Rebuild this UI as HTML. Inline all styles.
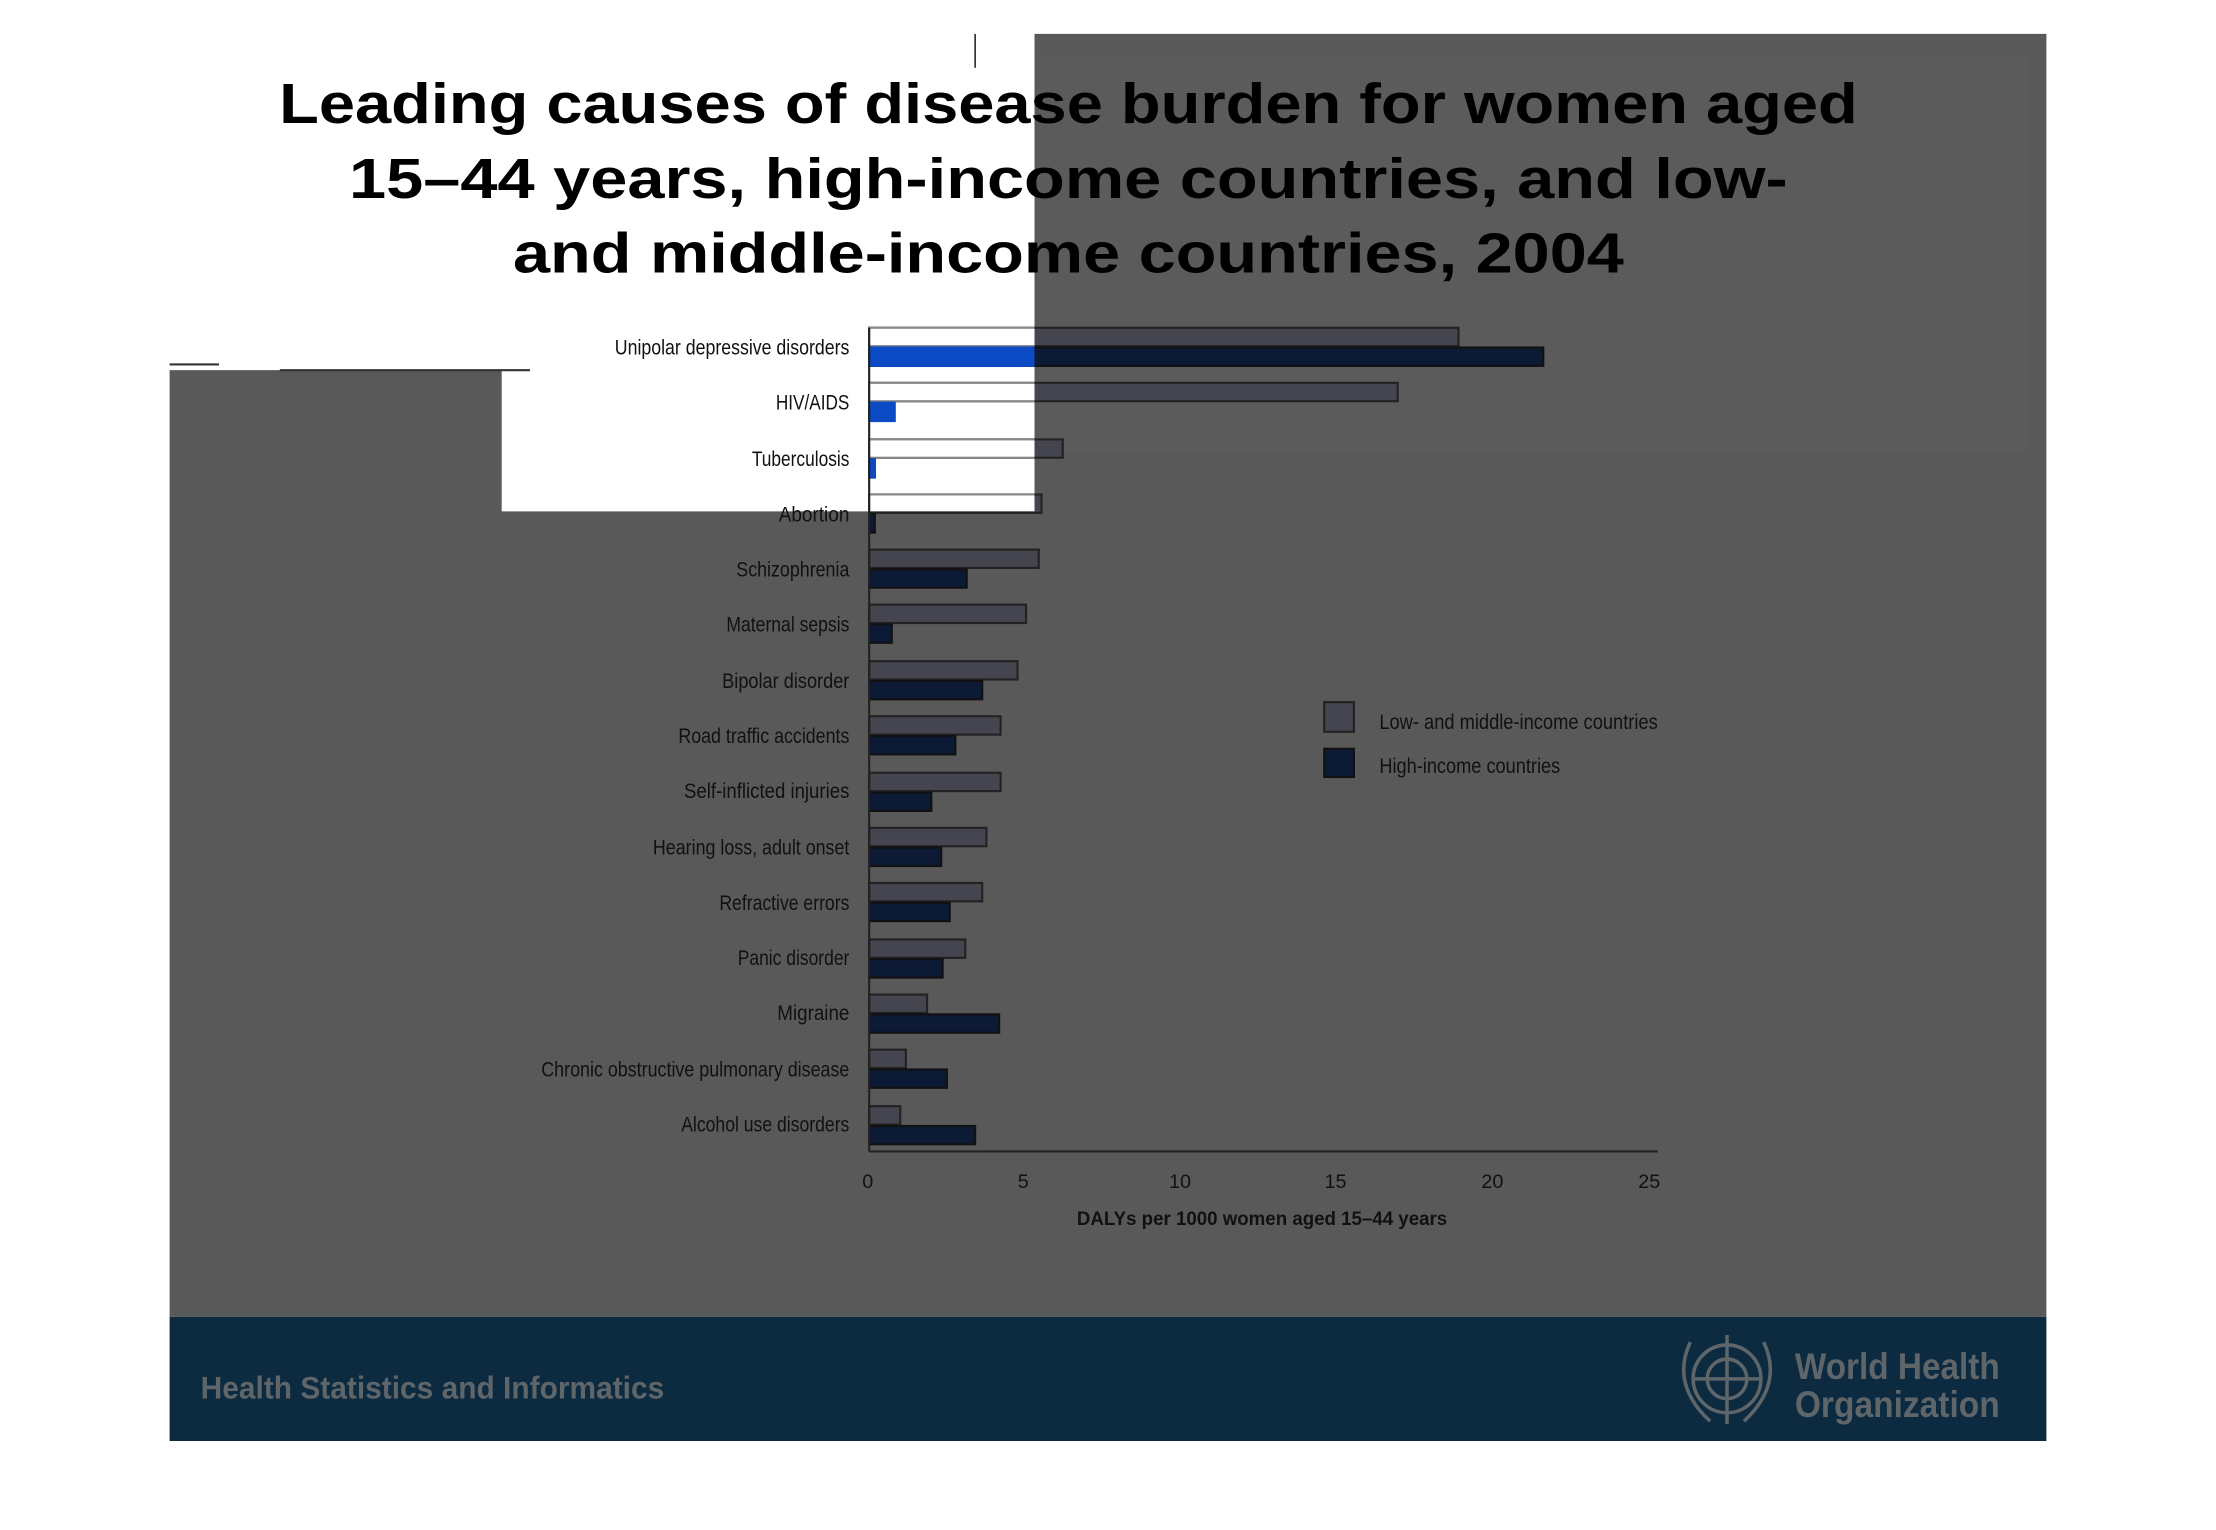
<!DOCTYPE html>
<html><head><meta charset="utf-8"><style>html,body{margin:0;padding:0;background:#fff}svg{display:block}</style></head>
<body>
<svg width="2216" height="1530" viewBox="0 0 1568 1083" preserveAspectRatio="none" xmlns="http://www.w3.org/2000/svg">
<defs>
<clipPath id="wc"><rect x="0" y="0" width="732" height="262"/><rect x="355" y="261" width="377" height="101"/></clipPath>
</defs>
<rect width="1568" height="1083" fill="#fff"/>
<path d="M732 24H1448V932H120V262H355V362H732Z" fill="#595959"/>
<rect x="735" y="40" width="700" height="280" fill="#5b5b5b"/>
<line x1="120" y1="258" x2="155" y2="258" stroke="#333" stroke-width="1.5"/>
<line x1="198" y1="262" x2="375" y2="262" stroke="#333" stroke-width="1.5"/>
<line x1="690" y1="24" x2="690" y2="48" stroke="#333" stroke-width="1.2"/>
<rect x="120" y="932" width="1328" height="88" fill="#0c2a40"/>
<text x="142" y="990" font-family="Liberation Sans, sans-serif" font-weight="bold" font-size="22" fill="#5f666a" textLength="328" lengthAdjust="spacingAndGlyphs">Health Statistics and Informatics</text>
<text x="1270" y="976" font-family="Liberation Sans, sans-serif" font-weight="bold" font-size="26" fill="#5f666a" textLength="145" lengthAdjust="spacingAndGlyphs">World Health</text>
<text x="1270" y="1003" font-family="Liberation Sans, sans-serif" font-weight="bold" font-size="26" fill="#5f666a" textLength="145" lengthAdjust="spacingAndGlyphs">Organization</text>
<g fill="none" stroke="#5f666a" stroke-width="2.5">
<circle cx="1222" cy="976" r="24"/><circle cx="1222" cy="976" r="14"/>
<line x1="1198" y1="976" x2="1246" y2="976"/><line x1="1222" y1="945" x2="1222" y2="1008"/>
<path d="M1196 950 Q1182 980 1210 1006"/><path d="M1248 950 Q1262 980 1234 1006"/>
</g>
<g font-family="Liberation Sans, DejaVu Sans, sans-serif" font-weight="bold" font-size="40" fill="#000" text-anchor="middle">
<text x="756" y="87" textLength="1117" lengthAdjust="spacingAndGlyphs">Leading causes of disease burden for women aged</text>
<text x="756" y="140" textLength="1018" lengthAdjust="spacingAndGlyphs">15–44 years, high-income countries, and low-</text>
<text x="756" y="193" textLength="786" lengthAdjust="spacingAndGlyphs">and middle-income countries, 2004</text>
</g>
<g stroke-width="1.5">
<rect x="615" y="232" width="417" height="13" fill="#45454f" stroke="#222"/><rect x="615" y="246" width="477" height="13" fill="#0c1a35" stroke="#111"/>
<rect x="615" y="271" width="374" height="13" fill="#45454f" stroke="#222"/><rect x="615" y="285" width="18" height="13" fill="#0c1a35" stroke="#111"/>
<rect x="615" y="311" width="137" height="13" fill="#45454f" stroke="#222"/><rect x="615" y="325" width="4" height="13" fill="#0c1a35" stroke="#111"/>
<rect x="615" y="350" width="122" height="13" fill="#45454f" stroke="#222"/><rect x="615" y="364" width="4" height="13" fill="#0c1a35" stroke="#111"/>
<rect x="615" y="389" width="120" height="13" fill="#45454f" stroke="#222"/><rect x="615" y="403" width="69" height="13" fill="#0c1a35" stroke="#111"/>
<rect x="615" y="428" width="111" height="13" fill="#45454f" stroke="#222"/><rect x="615" y="442" width="16" height="13" fill="#0c1a35" stroke="#111"/>
<rect x="615" y="468" width="105" height="13" fill="#45454f" stroke="#222"/><rect x="615" y="482" width="80" height="13" fill="#0c1a35" stroke="#111"/>
<rect x="615" y="507" width="93" height="13" fill="#45454f" stroke="#222"/><rect x="615" y="521" width="61" height="13" fill="#0c1a35" stroke="#111"/>
<rect x="615" y="547" width="93" height="13" fill="#45454f" stroke="#222"/><rect x="615" y="561" width="44" height="13" fill="#0c1a35" stroke="#111"/>
<rect x="615" y="586" width="83" height="13" fill="#45454f" stroke="#222"/><rect x="615" y="600" width="51" height="13" fill="#0c1a35" stroke="#111"/>
<rect x="615" y="625" width="80" height="13" fill="#45454f" stroke="#222"/><rect x="615" y="639" width="57" height="13" fill="#0c1a35" stroke="#111"/>
<rect x="615" y="665" width="68" height="13" fill="#45454f" stroke="#222"/><rect x="615" y="679" width="52" height="13" fill="#0c1a35" stroke="#111"/>
<rect x="615" y="704" width="41" height="13" fill="#45454f" stroke="#222"/><rect x="615" y="718" width="92" height="13" fill="#0c1a35" stroke="#111"/>
<rect x="615" y="743" width="26" height="13" fill="#45454f" stroke="#222"/><rect x="615" y="757" width="55" height="13" fill="#0c1a35" stroke="#111"/>
<rect x="615" y="783" width="22" height="13" fill="#45454f" stroke="#222"/><rect x="615" y="797" width="75" height="13" fill="#0c1a35" stroke="#111"/>
</g>
<g clip-path="url(#wc)" stroke-width="1.5">
<rect x="615" y="232" width="417" height="13" fill="#fff" stroke="#888"/><rect x="615" y="246" width="477" height="13" fill="#0d4bc4" stroke="#0d4bc4"/>
<rect x="615" y="271" width="374" height="13" fill="#fff" stroke="#888"/><rect x="615" y="285" width="18" height="13" fill="#0d4bc4" stroke="#0d4bc4"/>
<rect x="615" y="311" width="137" height="13" fill="#fff" stroke="#888"/><rect x="615" y="325" width="4" height="13" fill="#0d4bc4" stroke="#0d4bc4"/>
<rect x="615" y="350" width="122" height="13" fill="#fff" stroke="#888"/>
</g>
<line x1="615" y1="232" x2="615" y2="815" stroke="#222" stroke-width="1.5"/>
<line x1="615" y1="815" x2="1173" y2="815" stroke="#222" stroke-width="1.5"/>
<g font-family="Liberation Sans, sans-serif" font-size="14" fill="#111" text-anchor="middle">
<text x="614" y="841">0</text><text x="724" y="841">5</text><text x="835" y="841">10</text><text x="945" y="841">15</text><text x="1056" y="841">20</text><text x="1167" y="841">25</text>
<text x="893" y="867" font-weight="bold" textLength="262" lengthAdjust="spacingAndGlyphs">DALYs per 1000 women aged 15–44 years</text>
</g>
<g font-family="Liberation Sans, sans-serif" font-size="15" fill="#111" text-anchor="end" lengthAdjust="spacingAndGlyphs">
<text x="601" y="251" textLength="166" lengthAdjust="spacingAndGlyphs">Unipolar depressive disorders</text>
<text x="601" y="290" textLength="52" lengthAdjust="spacingAndGlyphs">HIV/AIDS</text>
<text x="601" y="330" textLength="69" lengthAdjust="spacingAndGlyphs">Tuberculosis</text>
<text x="601" y="369" textLength="50" lengthAdjust="spacingAndGlyphs">Abortion</text>
<text x="601" y="408" textLength="80" lengthAdjust="spacingAndGlyphs">Schizophrenia</text>
<text x="601" y="447" textLength="87" lengthAdjust="spacingAndGlyphs">Maternal sepsis</text>
<text x="601" y="487" textLength="90" lengthAdjust="spacingAndGlyphs">Bipolar disorder</text>
<text x="601" y="526" textLength="121" lengthAdjust="spacingAndGlyphs">Road traffic accidents</text>
<text x="601" y="565" textLength="117" lengthAdjust="spacingAndGlyphs">Self-inflicted injuries</text>
<text x="601" y="605" textLength="139" lengthAdjust="spacingAndGlyphs">Hearing loss, adult onset</text>
<text x="601" y="644" textLength="92" lengthAdjust="spacingAndGlyphs">Refractive errors</text>
<text x="601" y="683" textLength="79" lengthAdjust="spacingAndGlyphs">Panic disorder</text>
<text x="601" y="722" textLength="51" lengthAdjust="spacingAndGlyphs">Migraine</text>
<text x="601" y="762" textLength="218" lengthAdjust="spacingAndGlyphs">Chronic obstructive pulmonary disease</text>
<text x="601" y="801" textLength="119" lengthAdjust="spacingAndGlyphs">Alcohol use disorders</text>
</g>
<rect x="937" y="497" width="21" height="21" fill="#45454f" stroke="#222" stroke-width="1.5"/>
<rect x="937" y="530" width="21" height="20" fill="#0c1a35" stroke="#111" stroke-width="1.5"/>
<g font-family="Liberation Sans, sans-serif" font-size="15" fill="#111">
<text x="976" y="516" textLength="197" lengthAdjust="spacingAndGlyphs">Low- and middle-income countries</text>
<text x="976" y="547" textLength="128" lengthAdjust="spacingAndGlyphs">High-income countries</text>
</g>
</svg>
</body></html>
